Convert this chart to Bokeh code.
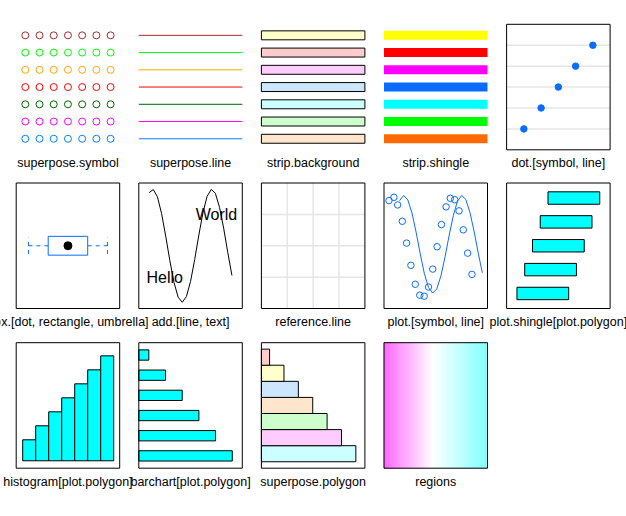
from bokeh.plotting import figure
from bokeh.models import Range1d
from bokeh.embed import file_html
from bokeh.resources import INLINE
from bokeh.core.properties import value

# ------------------------------------------------------------------ data
labels = ["superpose.symbol", "superpose.line", "strip.background", "strip.shingle",
          "dot.[symbol, line]", "box.[dot, rectangle, umbrella]", "add.[line, text]",
          "reference.line", "plot.[symbol, line]", "plot.shingle[plot.polygon]",
          "histogram[plot.polygon]", "barchart[plot.polygon]", "superpose.polygon", "regions"]

# superpose.symbol / superpose.line (bottom to top)
sym_levels = [1, 2, 3, 4, 5, 6, 7]
sym_x = [1, 2, 3, 4, 5, 6, 7]
superpose_cols = ["#0080ff", "#ff00ff", "#006400", "#ff0000", "#ffa500", "#00ff00", "#a52a2a"]
line_ends = [0, 1]

# strip.background / strip.shingle (bottom to top)
strip_bg_cols = ["#ffe5cc", "#ccffcc", "#ccffff", "#cce6ff", "#ffccff", "#ffcccc", "#ffffcc"]
strip_sh_cols = ["#ff6a00", "#00ff00", "#00ffff", "#0a6cff", "#ff00ff", "#ff0000", "#ffff00"]

# dot.[symbol, line]
dot_x = [1, 2, 3, 4, 5]
dot_y = [1, 2, 3, 4, 5]

# box: lower whisker, q1, median, q3, upper whisker
box_stats = [1, 2, 3, 4, 5]
box_level = 1

# add.[line, text]
add_x = [0.10, 0.14, 0.18, 0.22, 0.26, 0.30, 0.34, 0.38, 0.42, 0.46, 0.50,
         0.54, 0.58, 0.62, 0.66, 0.70, 0.74, 0.78, 0.82, 0.86, 0.90]
add_y = [0.923, 0.948, 0.890, 0.757, 0.577, 0.381, 0.208, 0.090, 0.050, 0.095, 0.216,
         0.390, 0.585, 0.764, 0.894, 0.949, 0.918, 0.806, 0.640, 0.445, 0.263]
txt_x = [0.25, 0.75]
txt_y = [0.25, 0.75]
txt = ["Hello", "World"]

# reference.line
ref_pos = [0.25, 0.5, 0.75]

# plot.[symbol, line]
pts_x = [0.048, 0.096, 0.132, 0.177, 0.218, 0.260, 0.302, 0.346, 0.388, 0.430,
         0.471, 0.513, 0.555, 0.600, 0.641, 0.683, 0.725, 0.766, 0.808, 0.850]
pts_y = [0.860, 0.886, 0.825, 0.695, 0.521, 0.344, 0.193, 0.106, 0.098, 0.171,
         0.314, 0.492, 0.669, 0.810, 0.878, 0.867, 0.778, 0.627, 0.441, 0.272]
pl_x = [0.15, 0.19, 0.23, 0.27, 0.31, 0.35, 0.39, 0.43, 0.47, 0.51, 0.55,
        0.59, 0.63, 0.67, 0.71, 0.75, 0.79, 0.83, 0.87, 0.91, 0.95]
pl_y = [0.859, 0.901, 0.866, 0.762, 0.609, 0.436, 0.278, 0.167, 0.123, 0.156, 0.260,
        0.412, 0.585, 0.742, 0.855, 0.901, 0.869, 0.767, 0.617, 0.444, 0.284]

# plot.shingle
sh_lo = [0.0, 0.15, 0.30, 0.45, 0.60]
sh_hi = [1.0, 1.15, 1.30, 1.45, 1.60]
sh_lvl = [1, 2, 3, 4, 5]

# histogram
hist_left = [0, 1, 2, 3, 4, 5, 6]
hist_right = [1, 2, 3, 4, 5, 6, 7]
hist_h = [1.5, 2.5, 3.5, 4.5, 5.5, 6.5, 7.5]

# barchart (bottom to top)
bar_vals = [6, 5, 4, 3, 2, 1]
bar_lvl = [1, 2, 3, 4, 5, 6]

# superpose.polygon (bottom to top)
poly_vals = [7, 6, 5, 4, 3, 2, 1]
poly_lvl = [1, 2, 3, 4, 5, 6, 7]
poly_cols = ["#ccffff", "#ffccff", "#ccffcc", "#ffe5cc", "#cce6ff", "#ffffcc", "#ffcccc"]

# regions
n_regions = 100

# ------------------------------------------------------------------ layout
W, H = 626, 516
col_left = [15.7, 138.3, 260.9, 383.5, 506.1]
row_top = [23.8, 182.5, 342.2]
PW, PH = 103.5, 125.5
BLUE = "#0a6cff"
FONT = value("Liberation Sans")

p = figure(width=W, height=H, x_range=Range1d(0, W), y_range=Range1d(H, 0),
           x_axis_type=None, y_axis_type=None, toolbar_location=None,
           output_backend="svg", min_border=0)
p.outline_line_color = None
p.background_fill_color = "white"
p.border_fill_color = "white"

panels = {}


def panel(name, col, row, xlim, ylim):
    L = col_left[col]
    T = row_top[row]
    R, B = L + PW, T + PH
    kx = PW / (xlim[1] - xlim[0])
    xs = xlim[0] - L / kx
    ky = PH / (ylim[1] - ylim[0])
    ys = ylim[0] - (H - B) / ky
    p.extra_x_ranges[name] = Range1d(xs, xs + W / kx)
    p.extra_y_ranges[name] = Range1d(ys, ys + H / ky)
    panels[name] = (xlim, ylim)
    return dict(x_range_name=name, y_range_name=name)


def border(name):
    xlim, ylim = panels[name]
    p.quad(left=[xlim[0]], right=[xlim[1]], bottom=[ylim[0]], top=[ylim[1]],
           fill_color=None, line_color="black", line_width=1,
           x_range_name=name, y_range_name=name)


# 1 superpose.symbol
kw = panel("p1", 0, 0, (0.36, 7.64), (0.36, 7.64))
gx = [x for lv in sym_levels for x in sym_x]
gy = [lv for lv in sym_levels for x in sym_x]
gc = [c for c in superpose_cols for x in sym_x]
p.scatter(gx, gy, marker="circle", size=7, fill_color=None, line_color=gc, line_width=1, **kw)

# 2 superpose.line
kw = panel("p2", 1, 0, (0, 1), (0.36, 7.64))
p.multi_line(xs=[line_ends for lv in sym_levels], ys=[[lv, lv] for lv in sym_levels],
             line_color=superpose_cols, line_width=1, **kw)

# 3 strip.background
kw = panel("p3", 2, 0, (0, 1), (0.36, 7.64))
p.rect(x=0.5, y=sym_levels, width=1, height=0.52, fill_color=strip_bg_cols,
       line_color="black", line_width=1, **kw)

# 4 strip.shingle
kw = panel("p4", 3, 0, (0, 1), (0.36, 7.64))
p.rect(x=0.5, y=sym_levels, width=1, height=0.52, fill_color=strip_sh_cols,
       line_color=None, **kw)

# 5 dot
kw = panel("p5", 4, 0, (0, 6), (0, 6))
p.segment(x0=0, y0=dot_y, x1=6, y1=dot_y, line_color="#e6e6e6", line_width=1.5, **kw)
p.scatter(dot_x, dot_y, marker="circle", size=6.5, fill_color=BLUE, line_color=BLUE, **kw)
border("p5")

# 6 box
kw = panel("p6", 0, 1, (0.38, 5.62), (0, 2))
lo, q1, med, q3, hi = box_stats
p.segment(x0=[lo, q3], y0=box_level, x1=[q1, hi], y1=box_level,
          line_color=BLUE, line_dash="4 4", line_width=1, **kw)
p.segment(x0=[lo, hi], y0=box_level - 0.13, x1=[lo, hi], y1=box_level + 0.13,
          line_color=BLUE, line_dash="4 4", line_width=1, **kw)
p.quad(left=[q1], right=[q3], bottom=[box_level - 0.15], top=[box_level + 0.15],
       fill_color=None, line_color=BLUE, line_width=1, **kw)
p.scatter([med], [box_level], marker="circle", size=8, fill_color="black", line_color="black", **kw)
border("p6")

# 7 add.[line, text]
kw = panel("p7", 1, 1, (0, 1), (0, 1))
p.line(add_x, add_y, line_color="black", line_width=1, **kw)
p.text(x=txt_x, y=txt_y, text=txt, text_align="center", text_baseline="middle",
       text_font=FONT, text_font_size="16px", text_color="black", **kw)
border("p7")

# 8 reference.line
kw = panel("p8", 2, 1, (0, 1), (0, 1))
p.segment(x0=ref_pos, y0=0, x1=ref_pos, y1=1, line_color="#e6e6e6", line_width=1.5, **kw)
p.segment(x0=0, y0=ref_pos, x1=1, y1=ref_pos, line_color="#e6e6e6", line_width=1.5, **kw)
border("p8")

# 9 plot.[symbol, line]
kw = panel("p9", 3, 1, (0, 1), (0, 1))
p.line(pl_x, pl_y, line_color=BLUE, line_width=1, **kw)
p.scatter(pts_x, pts_y, marker="circle", size=6.5, fill_color=None, line_color=BLUE, line_width=1, **kw)
border("p9")

# 10 plot.shingle
kw = panel("p10", 4, 1, (-0.2, 1.8), (0.37, 5.63))
p.quad(left=sh_lo, right=sh_hi, bottom=[l - 0.26 for l in sh_lvl], top=[l + 0.26 for l in sh_lvl],
       fill_color="#00ffff", line_color="black", line_width=1, **kw)
border("p10")

# 11 histogram
kw = panel("p11", 0, 2, (-0.5, 7.46), (-0.53, 8.44))
p.quad(left=hist_left, right=hist_right, bottom=0, top=hist_h,
       fill_color="#00ffff", line_color="black", line_width=1, **kw)
border("p11")

# 12 barchart
kw = panel("p12", 1, 2, (0.4, 6.6), (0.39, 6.61))
p.quad(left=0.4, right=bar_vals, bottom=[l - 0.255 for l in bar_lvl], top=[l + 0.255 for l in bar_lvl],
       fill_color="#00ffff", line_color="black", line_width=1, **kw)
border("p12")

# 13 superpose.polygon
kw = panel("p13", 2, 2, (0.43, 7.63), (0.1, 7.9))
p.quad(left=0.43, right=poly_vals, bottom=[l - 0.5 for l in poly_lvl], top=[l + 0.5 for l in poly_lvl],
       fill_color=poly_cols, line_color="black", line_width=1, **kw)
border("p13")

# 14 regions
kw = panel("p14", 3, 2, (0, n_regions), (0, 1))
reg_cols = []
for i in range(n_regions):
    t = (i + 0.5) / n_regions
    if t < 0.47:
        s = 0.62 * (0.47 - t) / 0.47
        reg_cols.append("#%02x%02x%02x" % (255, round(255 * (1 - s)), 255))
    else:
        s = 0.5 * (t - 0.47) / 0.53
        reg_cols.append("#%02x%02x%02x" % (round(255 * (1 - s)), 255, 255))
reg_left = list(range(n_regions))
reg_right = [i + 1 for i in reg_left]
p.quad(left=reg_left, right=reg_right, bottom=0, top=1, fill_color=reg_cols,
       line_color=reg_cols, line_width=0.6, **kw)
border("p14")

# labels (layout text, pixel coordinates of the default ranges)
lab_x, lab_y = [], []
for k in range(len(labels)):
    r, c = divmod(k, 5)
    lab_x.append(col_left[c] + PW / 2)
    lab_y.append(row_top[r] + PH + 13.5)
p.text(x=lab_x, y=lab_y, text=labels, text_align="center", text_baseline="middle",
       text_font=FONT, text_font_size="12.5px", text_color="black")

open("out.html", "w").write(file_html(p, INLINE))
